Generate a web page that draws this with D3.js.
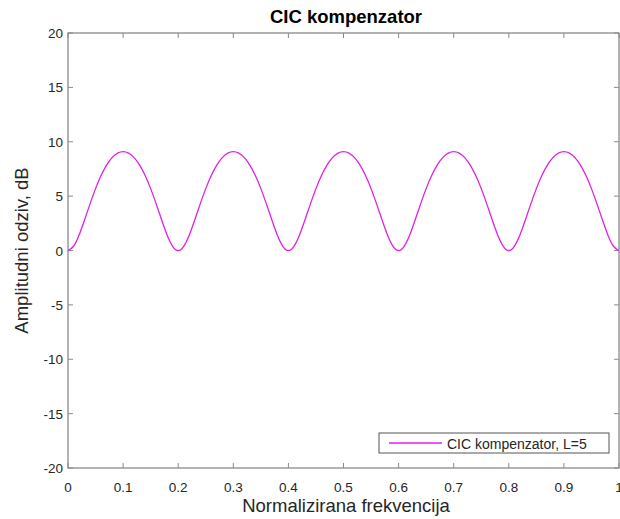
<!DOCTYPE html>
<html>
<head>
<meta charset="utf-8">
<script src="https://cdn.jsdelivr.net/npm/d3@7"></script>
<style>
  html, body { margin: 0; padding: 0; background: #fff; }
  svg { display: block; font-family: "Liberation Sans", Arial, Helvetica, sans-serif; }
</style>
</head>
<body>
<svg id="chart" width="620" height="519"></svg>
<script>
// Normalized frequency samples and compensator amplitude response (dB)
const freq = [
  0.00, 0.01, 0.02, 0.03, 0.04, 0.05, 0.06, 0.07, 0.08, 0.09,
  0.10, 0.11, 0.12, 0.13, 0.14, 0.15, 0.16, 0.17, 0.18, 0.19,
  0.20, 0.21, 0.22, 0.23, 0.24, 0.25, 0.26, 0.27, 0.28, 0.29,
  0.30, 0.31, 0.32, 0.33, 0.34, 0.35, 0.36, 0.37, 0.38, 0.39,
  0.40, 0.41, 0.42, 0.43, 0.44, 0.45, 0.46, 0.47, 0.48, 0.49,
  0.50, 0.51, 0.52, 0.53, 0.54, 0.55, 0.56, 0.57, 0.58, 0.59,
  0.60, 0.61, 0.62, 0.63, 0.64, 0.65, 0.66, 0.67, 0.68, 0.69,
  0.70, 0.71, 0.72, 0.73, 0.74, 0.75, 0.76, 0.77, 0.78, 0.79,
  0.80, 0.81, 0.82, 0.83, 0.84, 0.85, 0.86, 0.87, 0.88, 0.89,
  0.90, 0.91, 0.92, 0.93, 0.94, 0.95, 0.96, 0.97, 0.98, 0.99,
  1.00
];
const amplitudeDb = [
  0.00, 0.39, 1.41, 2.81, 4.29, 5.69, 6.89, 7.85, 8.54, 8.96,
  9.10, 8.96, 8.54, 7.85, 6.89, 5.69, 4.29, 2.81, 1.41, 0.39,
  0.00, 0.39, 1.41, 2.81, 4.29, 5.69, 6.89, 7.85, 8.54, 8.96,
  9.10, 8.96, 8.54, 7.85, 6.89, 5.69, 4.29, 2.81, 1.41, 0.39,
  0.00, 0.39, 1.41, 2.81, 4.29, 5.69, 6.89, 7.85, 8.54, 8.96,
  9.10, 8.96, 8.54, 7.85, 6.89, 5.69, 4.29, 2.81, 1.41, 0.39,
  0.00, 0.39, 1.41, 2.81, 4.29, 5.69, 6.89, 7.85, 8.54, 8.96,
  9.10, 8.96, 8.54, 7.85, 6.89, 5.69, 4.29, 2.81, 1.41, 0.39,
  0.00, 0.39, 1.41, 2.81, 4.29, 5.69, 6.89, 7.85, 8.54, 8.96,
  9.10, 8.96, 8.54, 7.85, 6.89, 5.69, 4.29, 2.81, 1.41, 0.39,
  0.00
];
const xTicks = [0, 0.1, 0.2, 0.3, 0.4, 0.5, 0.6, 0.7, 0.8, 0.9, 1];
const yTicks = [-20, -15, -10, -5, 0, 5, 10, 15, 20];
const title = "CIC kompenzator";
const xLabel = "Normalizirana frekvencija";
const yLabel = "Amplitudni odziv, dB";
const seriesName = "CIC kompenzator, L=5";

const axisColor = "#8a8a8a";
const textColor = "#262626";
const lineColor = "#e022e0";

const margin = { left: 68, right: 1, top: 33, bottom: 51 };
const W = 620, H = 519;
const svg = d3.select("#chart");

const x = d3.scaleLinear().domain([0, 1]).range([margin.left, W - margin.right]);
const y = d3.scaleLinear().domain([-20, 20]).range([H - margin.bottom, margin.top]);

const tickLen = 5;
const tickFont = 13.5;
const fmtX = d => (d === 0 || d === 1) ? String(d) : d.toFixed(1);

// Axes box
svg.append("rect")
  .attr("x", x(0)).attr("y", y(20))
  .attr("width", x(1) - x(0)).attr("height", y(-20) - y(20))
  .attr("fill", "none").attr("stroke", axisColor).attr("stroke-width", 1.3);

// Bottom and top ticks
const xt = svg.append("g");
xTicks.forEach(t => {
  xt.append("line").attr("x1", x(t)).attr("x2", x(t))
    .attr("y1", y(-20)).attr("y2", y(-20) - tickLen)
    .attr("stroke", axisColor);
  xt.append("line").attr("x1", x(t)).attr("x2", x(t))
    .attr("y1", y(20)).attr("y2", y(20) + tickLen)
    .attr("stroke", axisColor);
  xt.append("text").attr("x", x(t)).attr("y", y(-20) + 24)
    .attr("text-anchor", "middle").attr("font-size", tickFont)
    .attr("fill", textColor).text(fmtX(t));
});

// Left and right ticks
const yt = svg.append("g");
yTicks.forEach(t => {
  yt.append("line").attr("x1", x(0)).attr("x2", x(0) + tickLen)
    .attr("y1", y(t)).attr("y2", y(t)).attr("stroke", axisColor);
  yt.append("line").attr("x1", x(1)).attr("x2", x(1) - tickLen)
    .attr("y1", y(t)).attr("y2", y(t)).attr("stroke", axisColor);
  yt.append("text").attr("x", x(0) - 5).attr("y", y(t) + 5)
    .attr("text-anchor", "end").attr("font-size", tickFont)
    .attr("fill", textColor).text(t);
});

// Response curve
const line = d3.line()
  .x((d, i) => x(freq[i]))
  .y(d => y(d))
  .curve(d3.curveNatural);
svg.append("path")
  .datum(amplitudeDb)
  .attr("d", line)
  .attr("fill", "none")
  .attr("stroke", lineColor)
  .attr("stroke-width", 1.3);

// Title and axis labels
svg.append("text").attr("x", 346).attr("y", 23)
  .attr("text-anchor", "middle").attr("font-size", 18.5).attr("font-weight", "bold")
  .attr("fill", "#000").text(title);
svg.append("text").attr("x", 346).attr("y", 512)
  .attr("text-anchor", "middle").attr("font-size", 18.5)
  .attr("fill", textColor).text(xLabel);
svg.append("text")
  .attr("transform", `translate(28,${(y(20) + y(-20)) / 2}) rotate(-90)`)
  .attr("text-anchor", "middle").attr("font-size", 18.5)
  .attr("fill", textColor).text(yLabel);

// Legend
const lg = svg.append("g");
lg.append("rect").attr("x", 379).attr("y", 433).attr("width", 230).attr("height", 20)
  .attr("fill", "#fff").attr("stroke", "#555").attr("stroke-width", 1);
lg.append("line").attr("x1", 389).attr("x2", 442).attr("y1", 443).attr("y2", 443)
  .attr("stroke", lineColor).attr("stroke-width", 1.3);
lg.append("text").attr("x", 447).attr("y", 448.5).attr("font-size", 14)
  .attr("fill", textColor).text(seriesName);
</script>
</body>
</html>
